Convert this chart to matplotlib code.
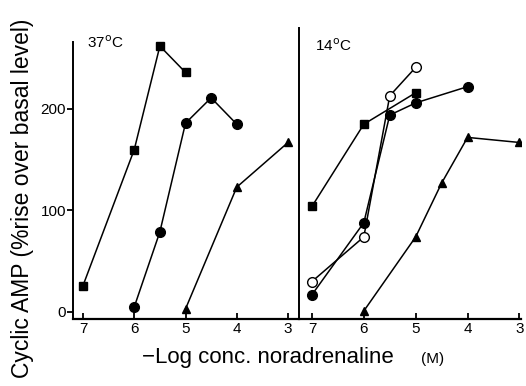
import numpy as np
import matplotlib
matplotlib.use("Agg")
import matplotlib.pyplot as plt

plt.rcParams['font.family'] = ['Liberation Sans', 'DejaVu Sans']

# 37 C panel
warm_sq_x = [7, 6, 5.5, 5]
warm_sq_y = [26, 160, 262, 236]
warm_ci_x = [6, 5.5, 5, 4.5, 4]
warm_ci_y = [5, 79, 186, 211, 185]
warm_tr_x = [5, 4, 3]
warm_tr_y = [3, 123, 167]

# 14 C panel
cold_sq_x = [7, 6, 5]
cold_sq_y = [104, 185, 216]
cold_ci_x = [7, 6, 5.5, 5, 4]
cold_ci_y = [17, 88, 194, 206, 222]
cold_oc_x = [7, 6, 5.5, 5]
cold_oc_y = [30, 74, 213, 241]
cold_tr_x = [6, 5, 4.5, 4, 3]
cold_tr_y = [1, 74, 127, 172, 167]

x_ticks = [7, 6, 5, 4, 3]
y_ticks = [0, 100, 200]

fig = plt.figure(figsize=(5.26, 3.86), dpi=100)
bot, h = 0.1736, 0.7539
axL = fig.add_axes([0.1388, bot, 0.4297, h])
axR = fig.add_axes([0.5684, bot, 0.4221, h])

ylim = (-6.9, 279.8)
lw = 1.1
kw = dict(color='black', lw=lw)

axL.plot(warm_sq_x, warm_sq_y, marker='s', ms=6, **kw)
axL.plot(warm_ci_x, warm_ci_y, marker='o', ms=7, **kw)
axL.plot(warm_tr_x, warm_tr_y, marker='^', ms=5.5, **kw)

axR.plot(cold_sq_x, cold_sq_y, marker='s', ms=6, **kw)
axR.plot(cold_ci_x, cold_ci_y, marker='o', ms=7, **kw)
axR.plot(cold_oc_x, cold_oc_y, marker='o', ms=7, mfc='white', **kw)
axR.plot(cold_tr_x, cold_tr_y, marker='^', ms=5.5, **kw)

for ax in (axL, axR):
    ax.set_ylim(*ylim)
    ax.set_xticks(x_ticks)
    ax.set_xticklabels([str(t) for t in x_ticks], fontsize=11)
    ax.tick_params(axis='x', direction='in', length=4, width=1.3, pad=2)
    ax.spines['top'].set_visible(False)
    ax.spines['right'].set_visible(False)
    ax.spines['bottom'].set_linewidth(1.6)
    ax.spines['left'].set_linewidth(1.4)
    ax.patch.set_alpha(0)

axL.set_xlim(7.195, 2.785)
axR.set_xlim(7.25, 2.97)

axL.spines['left'].set_bounds(ylim[0], 266)
axL.set_yticks(y_ticks)
axL.set_yticklabels([str(t) for t in y_ticks], fontsize=11)
axL.tick_params(axis='y', direction='out', length=4, width=1.3, pad=1)
axR.set_yticks([])

axL.text(0.06, 0.95, '37$^{\\rm o}$C', transform=axL.transAxes, fontsize=11,
         va='center', ha='left')
axR.text(0.07, 0.94, '14$^{\\rm o}$C', transform=axR.transAxes, fontsize=11,
         va='center', ha='left')

fig.text(23 / 526, 1 - 198 / 386, 'Cyclic AMP (%rise over basal level)',
         rotation=90, fontsize=16.5, ha='center', va='center')
fig.text(142 / 526, 1 - 358 / 386, '\u2212Log conc. noradrenaline',
         fontsize=16, ha='left', va='center')
fig.text(433 / 526, 1 - 359 / 386, '(M)', fontsize=11, ha='center', va='center')

fig.savefig('out.png', dpi=100)
